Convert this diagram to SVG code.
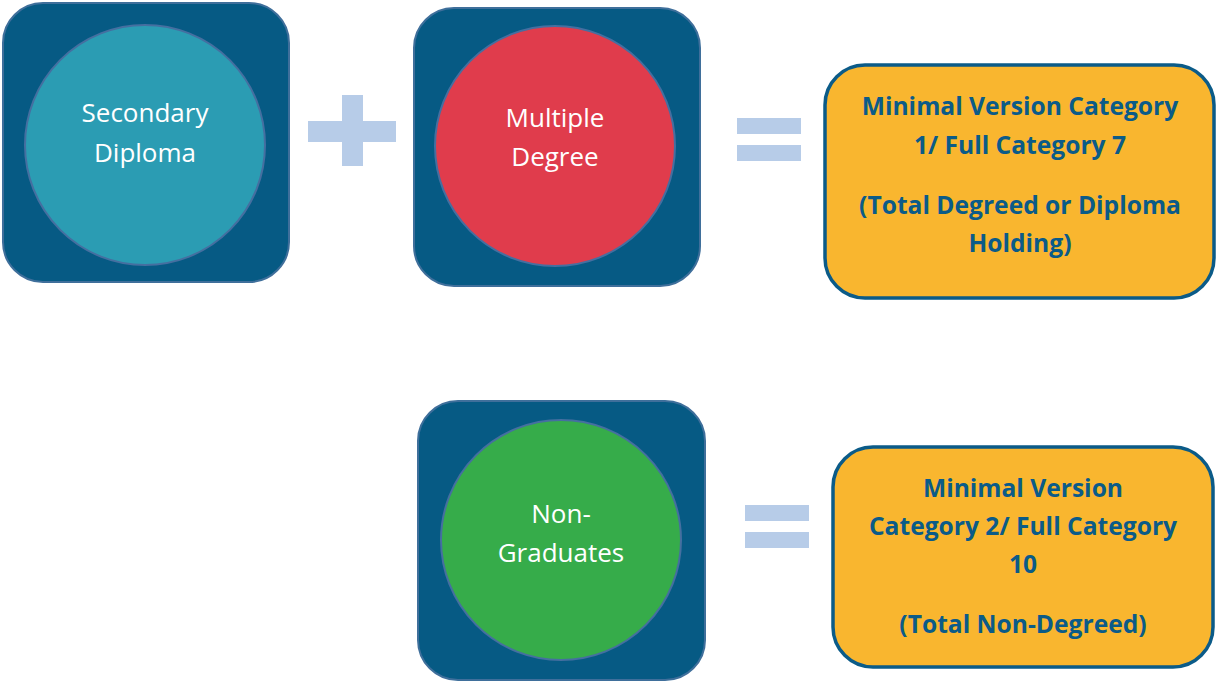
<svg xmlns="http://www.w3.org/2000/svg" width="1216" height="681" viewBox="0 0 1216 681">
<style>
.sq{fill:#065A84;stroke:#3F6F9B;stroke-width:2}
.ci{stroke:#456FA0;stroke-width:2}
.ct{font-family:"Open Sans","Liberation Sans",sans-serif;font-size:26px;fill:#ffffff;text-anchor:middle}
.yb{fill:#F9B62F;stroke:#0B5B88;stroke-width:3.5}
.yt{font-family:"Open Sans","Liberation Sans",sans-serif;font-weight:bold;font-size:24.6px;fill:#0B5B88;text-anchor:middle}
.op{fill:#B7CCE8}
</style>
<rect width="1216" height="681" fill="#ffffff"/>
<g id="secondary-diploma">
<rect class="sq" x="3" y="3" width="286" height="279" rx="40"/>
<circle class="ci" cx="145" cy="145" r="120" fill="#2B9CB3"/>
<text class="ct" x="145" y="122">Secondary</text>
<text class="ct" x="145" y="162">Diploma</text>
</g>
<g id="multiple-degree">
<rect class="sq" x="414" y="8" width="286" height="278" rx="40"/>
<circle class="ci" cx="555" cy="146" r="120" fill="#E03C4C"/>
<text class="ct" x="555" y="127">Multiple</text>
<text class="ct" x="555" y="166">Degree</text>
</g>
<g id="category-1">
<rect class="yb" x="825" y="65" width="389" height="233" rx="40"/>
<text class="yt" x="1020" y="115">Minimal Version Category</text>
<text class="yt" x="1020" y="154">1/ Full Category 7</text>
<text class="yt" x="1020" y="214">(Total Degreed or Diploma</text>
<text class="yt" x="1020" y="252">Holding)</text>
</g>
<g id="non-graduates">
<rect class="sq" x="418" y="401" width="287" height="279" rx="40"/>
<circle class="ci" cx="561" cy="540" r="120" fill="#36AC4A"/>
<text class="ct" x="561" y="523">Non-</text>
<text class="ct" x="561" y="562">Graduates</text>
</g>
<g id="category-2">
<rect class="yb" x="833" y="447" width="380" height="220" rx="40"/>
<text class="yt" x="1023" y="497">Minimal Version</text>
<text class="yt" x="1023" y="535">Category 2/ Full Category</text>
<text class="yt" x="1023" y="573">10</text>
<text class="yt" x="1023" y="633">(Total Non-Degreed)</text>
</g>
<g id="connectors">
<rect class="op" x="308" y="121" width="88" height="21"/>
<rect class="op" x="342" y="95" width="21" height="71"/>
<rect class="op" x="737" y="118" width="64" height="16"/>
<rect class="op" x="737" y="145" width="64" height="16"/>
<rect class="op" x="745" y="505" width="64" height="16"/>
<rect class="op" x="745" y="532" width="64" height="16"/>
</g>
</svg>
